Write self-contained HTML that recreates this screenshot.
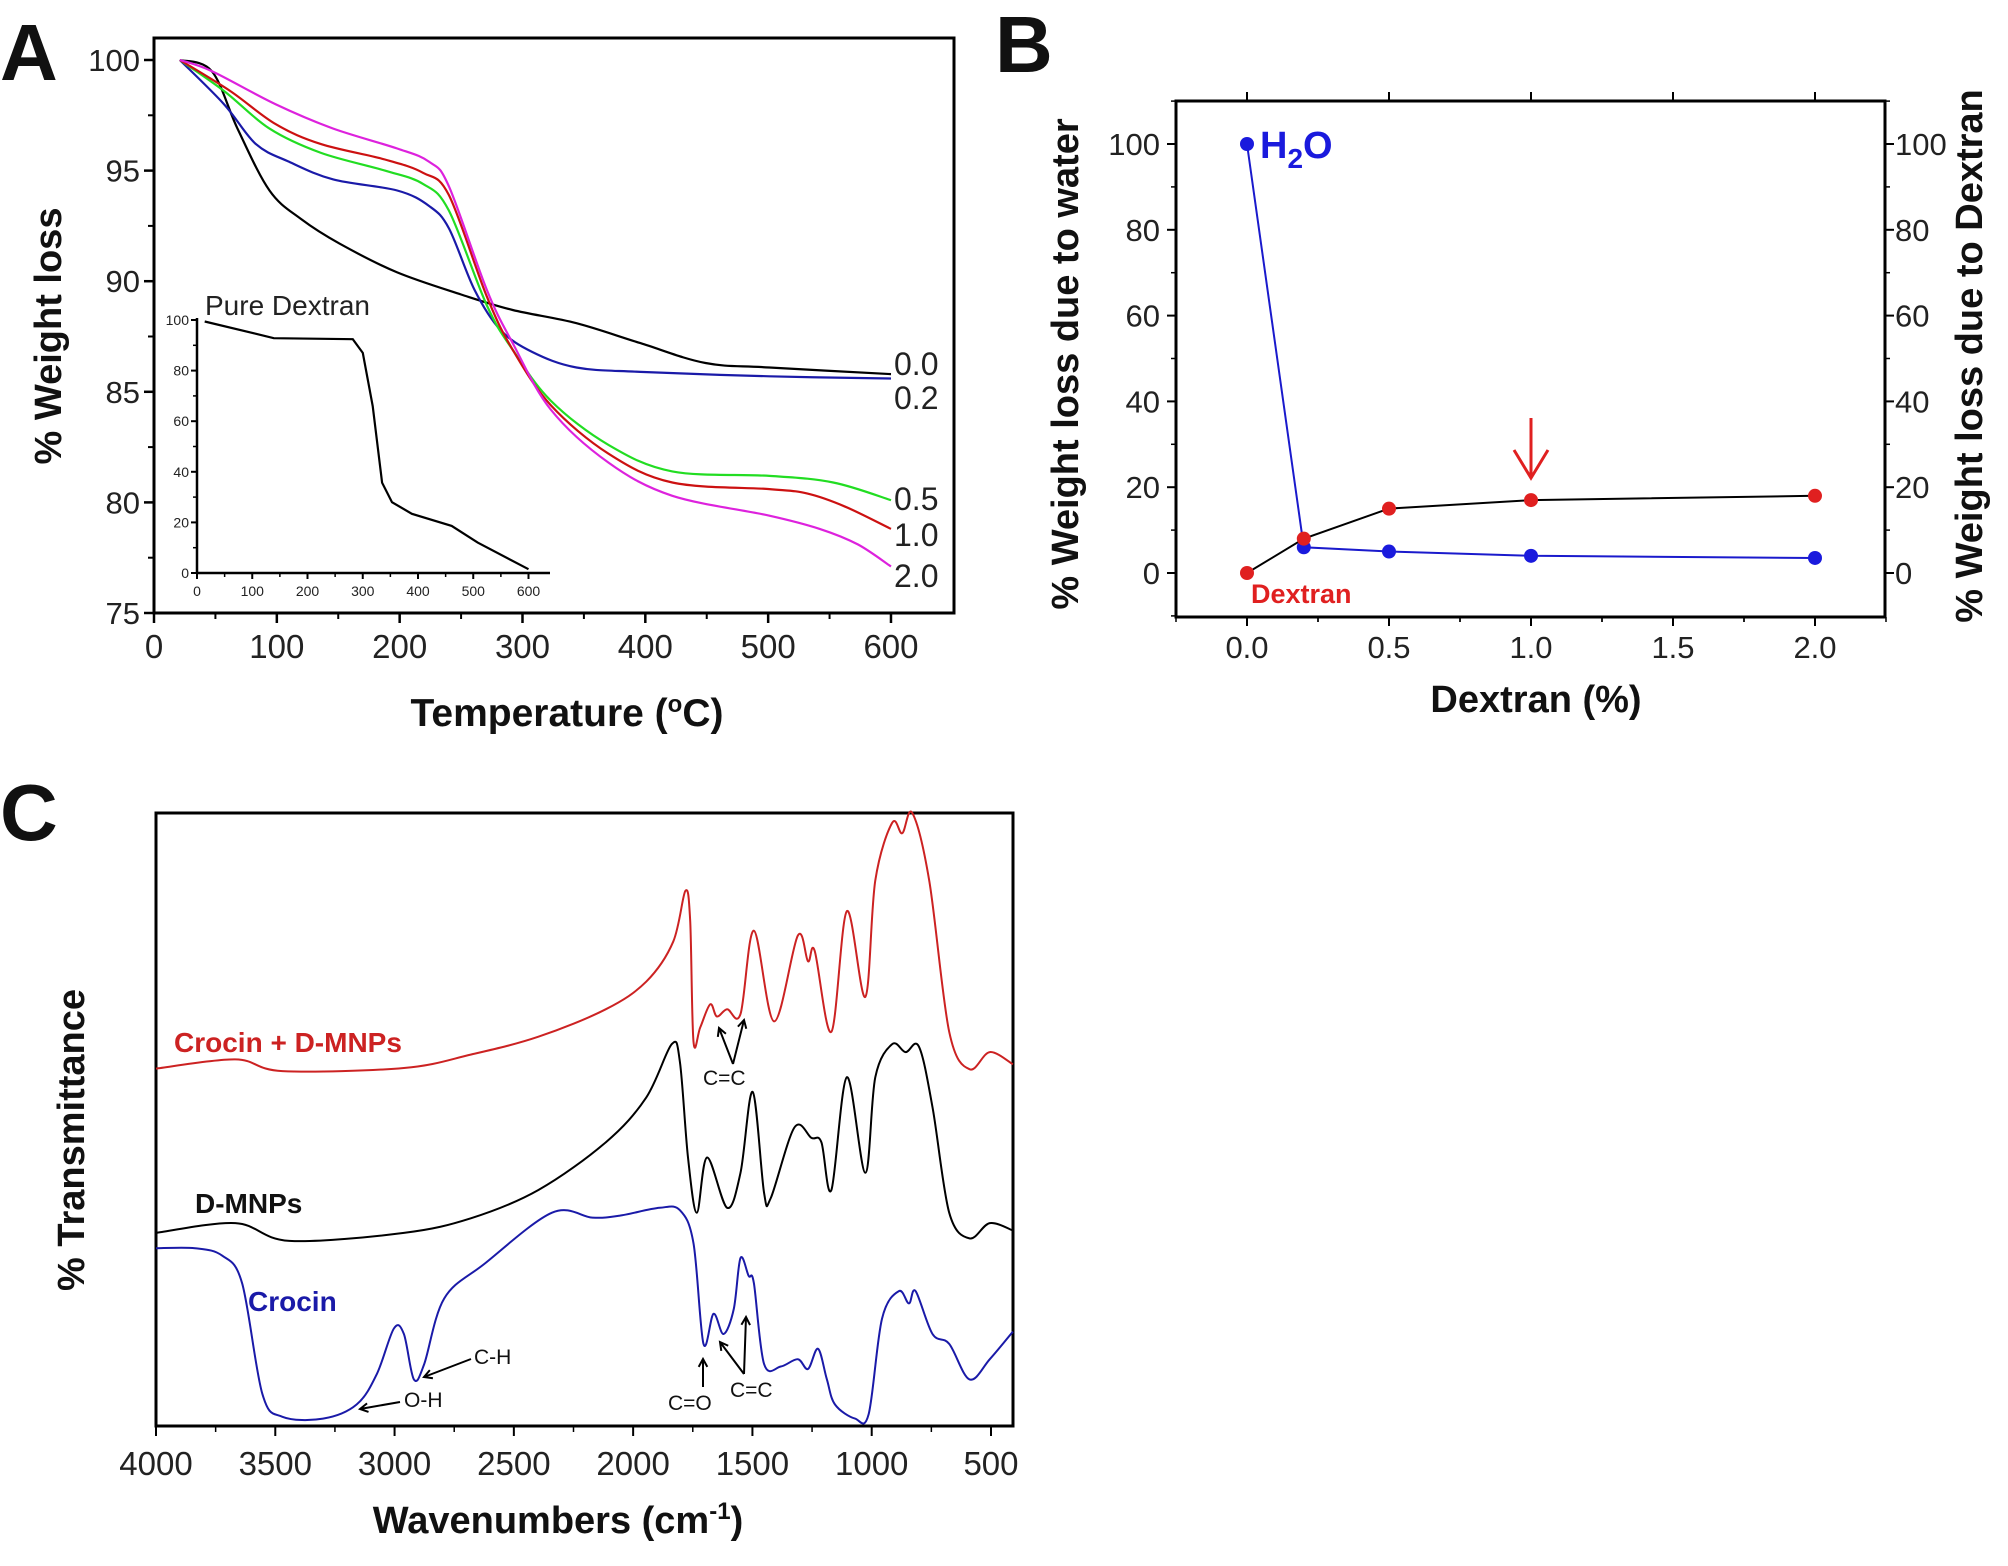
<!DOCTYPE html>
<html><head><meta charset="utf-8"><style>
html,body{margin:0;padding:0;background:#fff;}
svg{display:block;font-family:"Liberation Sans",Arial,sans-serif;}
.tk{font-size:31px;fill:#222;}
.ti{font-size:38px;font-weight:bold;fill:#111;}
.pl{font-size:80px;font-weight:bold;fill:#111;}
</style></head><body>
<svg id="fig" width="2008" height="1566" viewBox="0 0 2008 1566" xmlns="http://www.w3.org/2000/svg">
<g id="gA"></g>
<g id="gB"></g>
<g id="gC"></g>
</svg>
<script>
// ===== Panel A data =====
const tgaLabels = ["0.0","0.2","0.5","1.0","2.0"];
const tgaColors = ["#000","#1a1aa8","#22dd22","#cc1111","#dd22dd"];
const tgaT0 = [21,47,68,94,120,151,198,250,292,344,396,449,501,600];
const tgaW0 = [100,99.5,96.9,94.1,92.8,91.7,90.4,89.4,88.7,88.1,87.2,86.3,86.1,85.8];
const tgaT02 = [21,57,83,110,146,198,224,240,261,282,308,344,396,501,600];
const tgaW02 = [100,98.0,96.2,95.4,94.6,94.1,93.4,92.4,89.6,87.8,86.8,86.1,85.9,85.7,85.6];
const tgaT05 = [21,57,94,136,188,219,240,271,292,323,370,422,501,553,600];
const tgaW05 = [100,98.6,96.9,95.8,95.0,94.4,93.2,88.9,86.9,84.6,82.6,81.4,81.2,80.9,80.1];
const tgaT10 = [21,62,99,136,188,219,240,271,292,323,370,422,501,532,563,600];
const tgaW10 = [100,98.6,97.1,96.2,95.5,94.9,93.9,89.3,86.9,84.4,82.2,80.9,80.6,80.4,79.8,78.8];
const tgaT20 = [21,47,99,146,198,224,240,271,292,323,370,422,501,542,573,600];
const tgaW20 = [100,99.5,98.0,96.9,96.0,95.4,94.3,89.6,87.2,84.2,81.8,80.3,79.4,78.8,78.1,77.1];
const insetT = [14,104,139,282,300,318,335,353,389,461,508,600];
const insetW = [99.4,94.7,92.8,92.4,87,66,35.7,28,23.4,18.6,12,1.5];
const aXTicks = [0,100,200,300,400,500,600];
const aYTicks = [75,80,85,90,95,100];
const insetXTicks = [0,100,200,300,400,500,600];
const insetYTicks = [0,20,40,60,80,100];
// ===== Panel B data =====
const dexX = [0,0.2,0.5,1.0,2.0];
const waterLoss = [100,6,5,4,3.5];
const dextranLoss = [0,8,15,17,18];
const bXTicks = ["0.0","0.5","1.0","1.5","2.0"];
const bYTicks = [0,20,40,60,80,100];
// ===== Panel C data =====
const cXTicks = [4000,3500,3000,2500,2000,1500,1000,500];
const wnRed = [4000,3667,3470,2961,2679,2397,2114,1945,1832,1781,1761,1747,1719,1677,1649,1606,1550,1494,1409,1310,1267,1239,1169,1104,1027,985,914,872,830,759,675,590,505,408];
const trRed = [58.3,59.8,57.9,58.4,60.6,63.5,68,72.5,79,87.3,82.4,62.7,65,68.8,66.8,68,67.2,80.8,66,80,75.8,77.5,64.3,84,70,89,98.4,96.7,100,89,64.3,58.2,61,59];
const wnBlack = [4000,3667,3441,2961,2679,2397,2114,1945,1838,1804,1770,1733,1690,1606,1550,1499,1451,1423,1324,1253,1211,1169,1104,1027,985,914,858,802,745,675,590,505,408];
const trBlack = [31.5,33.1,30.2,31.5,33.9,38.5,46.3,53.6,62.3,59.4,43.8,34.8,43.8,35.6,41.3,54.5,38,37.2,48.7,47,46.3,38.5,56.9,41.3,56.9,62.3,61,61.9,52,34.8,30.6,33.1,31.9];
const wnBlue = [4000,3836,3723,3639,3554,3470,3300,3159,3074,3003,2961,2919,2876,2792,2622,2340,2171,2058,1889,1804,1747,1705,1663,1621,1578,1550,1516,1494,1451,1381,1310,1267,1225,1188,1154,1070,1013,957,886,844,816,745,675,590,505,408];
const trBlue = [29,29,27.8,23.3,5.2,1.5,1.2,3.5,8.5,15.9,15,7.6,10.1,20.8,26.5,34.8,34,34.3,35.6,35.2,29.8,13.4,18.3,15,19.1,27.4,24.5,23.3,10.1,9.7,10.9,9.3,12.6,7.6,3.5,1.2,1.9,17.5,22,20,22,15,13.4,7.6,10.9,15.4];

const NS="http://www.w3.org/2000/svg";
function mk(parent,tag,attrs,text){const e=document.createElementNS(NS,tag);for(const k in attrs)e.setAttribute(k,attrs[k]);if(attrs['font-size']!==undefined)e.style.fontSize=attrs['font-size']+'px';if(text!==undefined)e.textContent=text;parent.appendChild(e);return e;}
function line(p,x1,y1,x2,y2,c,w){return mk(p,'line',{x1,y1,x2,y2,stroke:c||'#000','stroke-width':w||2});}
function pathFrom(xs,ys,fx,fy){return xs.map((v,i)=>(i?'L':'M')+fx(v).toFixed(1)+','+fy(ys[i]).toFixed(1)).join(' ');}
function smoothFrom(xs,ys,fx,fy){
 const P=xs.map((v,i)=>[fx(v),fy(ys[i])]);let d='M'+P[0][0].toFixed(1)+','+P[0][1].toFixed(1);
 for(let i=0;i<P.length-1;i++){const p0=P[i-1]||P[i],p1=P[i],p2=P[i+1],p3=P[i+2]||p2;
  const c1=[p1[0]+(p2[0]-p0[0])/6,p1[1]+(p2[1]-p0[1])/6],c2=[p2[0]-(p3[0]-p1[0])/6,p2[1]-(p3[1]-p1[1])/6];
  d+=` C${c1[0].toFixed(1)},${c1[1].toFixed(1)} ${c2[0].toFixed(1)},${c2[1].toFixed(1)} ${p2[0].toFixed(1)},${p2[1].toFixed(1)}`;}
 return d;}

// ===== Panel A =====
(function(){
const g=document.getElementById('gA');
const L=154,R=954,T=38,B=613;
const fx=v=>154+v*1.2283, fy=v=>60+(100-v)*22.12;
let e=mk(g,'text',{x:0,y:80,class:'pl'},'A');

e=mk(g,'rect',{x:L,y:T,width:R-L,height:B-T,fill:'none',stroke:'#000','stroke-width':3});

aXTicks.forEach(v=>{line(g,fx(v),B,fx(v),B+10,'#000',2.5);const t=mk(g,'text',{x:fx(v),y:658,class:'tk','text-anchor':'middle','font-size':33},v);
 if(v<600){line(g,fx(v+50),B,fx(v+50),B+6,'#000',2);}});
aYTicks.forEach(v=>{line(g,L,fy(v),L-10,fy(v),'#000',2.5);const t=mk(g,'text',{x:L-14,y:fy(v)+11,class:'tk','text-anchor':'end'},v);
 if(v<100)line(g,L,fy(v+2.5),L-6,fy(v+2.5),'#000',2);});
const series=[[tgaT0,tgaW0],[tgaT02,tgaW02],[tgaT05,tgaW05],[tgaT10,tgaW10],[tgaT20,tgaW20]];
const lblY=[375,409,510,546,587];
series.forEach((s,i)=>{const p=mk(g,'path',{d:smoothFrom(s[0],s[1],fx,fy),fill:'none',stroke:tgaColors[i],'stroke-width':2.2,'stroke-linejoin':'round'});
 
 const t=mk(g,'text',{x:894,y:lblY[i],class:'tk','font-size':32},tgaLabels[i]);});
// inset
const ix=v=>197+v*0.5525, iy=v=>573-v*2.53;
line(g,197,318,197,573,'#000',2.5);line(g,197,573,550,573,'#000',2.5);
insetXTicks.forEach(v=>{line(g,ix(v),573,ix(v),579,'#000',2);if(v<600)line(g,ix(v+50),573,ix(v+50),577,'#000',1.5);const t=mk(g,'text',{x:ix(v),y:596,class:'tk','font-size':14,'text-anchor':'middle'},v);});
insetYTicks.forEach(v=>{line(g,197,iy(v),191,iy(v),'#000',2);if(v<100)line(g,197,iy(v+10),193,iy(v+10),'#000',1.5);const t=mk(g,'text',{x:189,y:iy(v)+5,class:'tk','font-size':14,'text-anchor':'end'},v);});
e=mk(g,'path',{d:pathFrom(insetT,insetW,ix,iy),fill:'none',stroke:'#000','stroke-width':2.2});

e=mk(g,'text',{x:205,y:315,class:'tk','font-size':28},'Pure Dextran');

e=mk(g,'text',{x:567,y:726,class:'ti','text-anchor':'middle','font-size':39},'Temperature (');

mk(e,'tspan',{'font-size':24,dy:-14},'o');mk(e,'tspan',{dy:14},'C)');
e=mk(g,'text',{x:0,y:0,class:'ti','text-anchor':'middle',transform:'translate(61,336) rotate(-90)','font-size':38},'% Weight loss');

})();

// ===== Panel B =====
(function(){
const g=document.getElementById('gB');
const L=1176,R=1885,T=101,B=617;
const fx=v=>1247+v*284, fy=v=>573-v*4.29;
let e=mk(g,'text',{x:995,y:72,class:'pl'},'B');

e=mk(g,'rect',{x:L,y:T,width:R-L,height:B-T,fill:'none',stroke:'#000','stroke-width':3});

bXTicks.forEach(s=>{const v=parseFloat(s);line(g,fx(v),B,fx(v),B+9,'#000',2);line(g,fx(v),T,fx(v),T-9,'#000',2);
 line(g,fx(v-0.25),B,fx(v-0.25),B+5,'#000',1.5);line(g,fx(v+0.25),B,fx(v+0.25),B+5,'#000',1.5);
 const t=mk(g,'text',{x:fx(v),y:658,class:'tk','text-anchor':'middle'},s);});
bYTicks.forEach(v=>{line(g,L,fy(v),L-9,fy(v),'#000',2);line(g,R,fy(v),R+9,fy(v),'#000',2);
 line(g,L,fy(v+10),L-5,fy(v+10),'#000',1.5);line(g,R,fy(v+10),R+5,fy(v+10),'#000',1.5);
 let t=mk(g,'text',{x:1160,y:fy(v)+11,class:'tk','text-anchor':'end'},v);
 t=mk(g,'text',{x:1895,y:fy(v)+11,class:'tk'},v);});
line(g,L,fy(-10),L-5,fy(-10),'#000',1.5);
e=mk(g,'path',{d:pathFrom(dexX,dextranLoss,fx,fy),fill:'none',stroke:'#000','stroke-width':2});

e=mk(g,'path',{d:pathFrom(dexX,waterLoss,fx,fy),fill:'none',stroke:'#1a1acc','stroke-width':2});

dexX.forEach((x,i)=>{let c=mk(g,'circle',{cx:fx(x),cy:fy(waterLoss[i]),r:7,fill:'#1a1add'});
 c=mk(g,'circle',{cx:fx(x),cy:fy(dextranLoss[i]),r:7,fill:'#e02020'});});
e=mk(g,'text',{x:1260,y:158,'font-size':38,'font-weight':'bold',fill:'#1a1add'},'H');

mk(e,'tspan',{'font-size':28,dy:10},'2');mk(e,'tspan',{dy:-10},'O');
e=mk(g,'text',{x:1251,y:603,'font-size':27,'font-weight':'bold',fill:'#e02020'},'Dextran');

e=mk(g,'path',{d:`M${fx(1)},418 L${fx(1)},478 M${fx(1)-17},450 L${fx(1)},478 L${fx(1)+17},450`,fill:'none',stroke:'#e02020','stroke-width':3});

e=mk(g,'text',{x:1536,y:712,class:'ti','text-anchor':'middle'},'Dextran (%)');

e=mk(g,'text',{x:0,y:0,class:'ti','text-anchor':'middle',transform:'translate(1078,364) rotate(-90)'},'% Weight loss due to water');

e=mk(g,'text',{x:0,y:0,class:'ti','text-anchor':'middle',transform:'translate(1982,356) rotate(-90)'},'% Weight loss due to Dextran');

})();

// ===== Panel C =====
(function(){
const g=document.getElementById('gC');
const L=156,R=1013,T=813,B=1426;
const fx=v=>156+(4000-v)*0.23857, fy=v=>1426-v*6.13;
let e=mk(g,'text',{x:0,y:840,class:'pl'},'C');

e=mk(g,'rect',{x:L,y:T,width:R-L,height:B-T,fill:'none',stroke:'#000','stroke-width':3});

cXTicks.forEach(v=>{line(g,fx(v),B,fx(v),B+10,'#000',2);if(v>500)line(g,fx(v-250),B,fx(v-250),B+6,'#000',1.5);
 const t=mk(g,'text',{x:fx(v),y:1475,class:'tk','text-anchor':'middle','font-size':33},v);});
[[wnRed,trRed,'#cc2222','crocin-dmnp-spectrum'],[wnBlack,trBlack,'#000','dmnp-spectrum'],[wnBlue,trBlue,'#1a1aa8','crocin-spectrum']].forEach(s=>{
 const p=mk(g,'path',{d:smoothFrom(s[0],s[1],fx,fy),fill:'none',stroke:s[2],'stroke-width':2,'stroke-linejoin':'round'});
 });
e=mk(g,'text',{x:174,y:1052,'font-size':28,'font-weight':'bold',fill:'#cc2222'},'Crocin + D-MNPs');

e=mk(g,'text',{x:195,y:1213,'font-size':28,'font-weight':'bold',fill:'#111'},'D-MNPs');

e=mk(g,'text',{x:248,y:1311,'font-size':28,'font-weight':'bold',fill:'#1a1aa8'},'Crocin');

const ann=[['C=C',703,1085],['C-H',474,1364],['O-H',404,1407],['C=O',668,1410],['C=C',730,1397]];
ann.forEach(a=>{const t=mk(g,'text',{x:a[1],y:a[2],'font-size':21,fill:'#111'},a[0]);});
const arrows=[[733,1064,719,1028],[733,1064,744,1020],[471,1359,424,1377],[400,1402,360,1409],[703,1387,703,1359],[744,1374,720,1342],[744,1374,746,1317]];
arrows.forEach(a=>{const ang=Math.atan2(a[3]-a[1],a[2]-a[0]);const h=9;
 const p=mk(g,'path',{d:`M${a[0]},${a[1]} L${a[2]},${a[3]} M${a[2]-h*Math.cos(ang-0.5)},${a[3]-h*Math.sin(ang-0.5)} L${a[2]},${a[3]} L${a[2]-h*Math.cos(ang+0.5)},${a[3]-h*Math.sin(ang+0.5)}`,fill:'none',stroke:'#000','stroke-width':2});
 });
e=mk(g,'text',{x:558,y:1533,class:'ti','text-anchor':'middle'},'Wavenumbers (cm');

mk(e,'tspan',{'font-size':24,dy:-14},'-1');mk(e,'tspan',{dy:14},')');
e=mk(g,'text',{x:0,y:0,class:'ti','text-anchor':'middle',transform:'translate(84,1140) rotate(-90)'},'% Transmittance');

})();
</script>
</body></html>
